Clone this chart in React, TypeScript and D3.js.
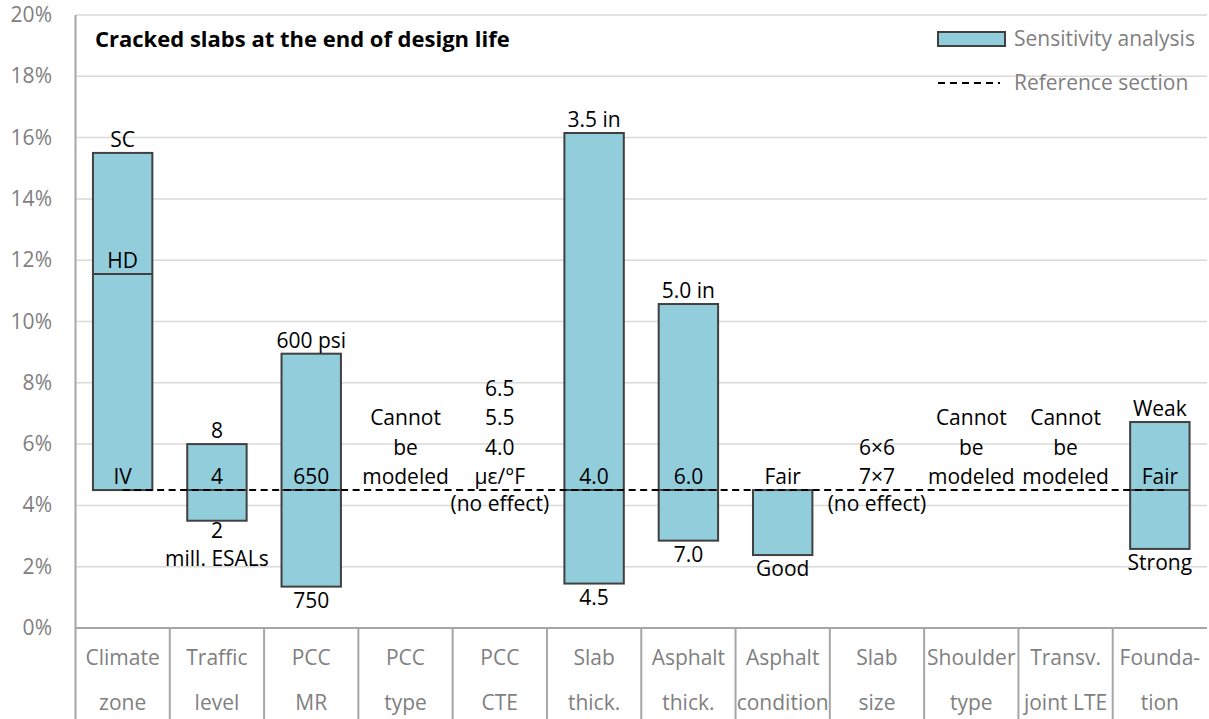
import React from "react";
import * as d3 from "d3";

const categoryLabels: string[][] = [
  ["Climate", "zone"],
  ["Traffic", "level"],
  ["PCC", "MR"],
  ["PCC", "type"],
  ["PCC", "CTE"],
  ["Slab", "thick."],
  ["Asphalt", "thick."],
  ["Asphalt", "condition"],
  ["Slab", "size"],
  ["Shoulder", "type"],
  ["Transv.", "joint LTE"],
  ["Founda-", "tion"],
];

const lowValues: (number | null)[] = [4.5, 3.5, 1.35, null, 4.5, 1.45, 2.85, 2.38, 4.5, null, null, 2.58];
const highValues: (number | null)[] = [15.5, 6.0, 8.95, null, 4.5, 16.15, 10.57, 4.5, 4.5, null, null, 6.72];
const referenceValue = 4.5;

const splitValues: (number | null)[] = [11.55, null, null, null, null, null, null, null, null, null, null, null];
const splitLabels: string[] = ["HD", "", "", "", "", "", "", "", "", "", "", ""];

const topLabels: string[] = ["SC", "8", "600 psi", "", "", "3.5 in", "5.0 in", "", "", "", "", "Weak"];
const referenceLabels: string[] = [
  "IV", "4", "650", "Cannot\nbe\nmodeled", "6.5\n5.5\n4.0\nμε/°F", "4.0", "6.0", "Fair",
  "6×6\n7×7", "Cannot\nbe\nmodeled", "Cannot\nbe\nmodeled", "Fair",
];
const bottomLabels: string[] = ["", "2\nmill. ESALs", "750", "", "(no effect)", "4.5", "7.0", "Good", "(no effect)", "", "", "Strong"];

const yTicks = [0, 2, 4, 6, 8, 10, 12, 14, 16, 18, 20];

const W = 1209;
const H = 719;
const left = 75.5;
const right = 1207;
const top = 15;
const bottom = 628;
const FONT = "'Open Sans', sans-serif";
const FS = 21;

export default function App() {
  const keys = categoryLabels.map((_, i) => String(i));
  const x = d3.scaleBand<string>().domain(keys).range([left, right]).padding(0);
  const y = d3.scaleLinear().domain([0, 20]).range([bottom, top]);
  const bw = x.bandwidth();
  const barW = bw * 0.63;
  const cx = (i: number) => (x(String(i)) as number) + bw / 2;

  const aboveLines = (txt: string, yv: number, i: number, key: string) => {
    if (!txt) return null;
    const lines = txt.split("\n");
    const base = y(yv) - 6;
    return lines.map((l, k) => (
      <text key={key + k} x={cx(i)} y={base - (lines.length - 1 - k) * 29.5} textAnchor="middle" fontSize={FS} fill="#000">
        {l}
      </text>
    ));
  };
  const belowLines = (txt: string, yv: number, i: number, key: string) => {
    if (!txt) return null;
    const lines = txt.split("\n");
    const base = y(yv) + (lines.length > 1 ? 17 : 21);
    return lines.map((l, k) => (
      <text key={key + k} x={cx(i)} y={base + k * 28.5} textAnchor="middle" fontSize={FS} fill="#000">
        {l}
      </text>
    ));
  };

  return (
    <svg width={W} height={H} style={{ position: "absolute", left: 0, top: 0, background: "#fff" }} fontFamily={FONT}>
      {yTicks.map((t) => (
        <line key={"g" + t} x1={left} x2={right} y1={y(t)} y2={y(t)} stroke="#d9d9d9" strokeWidth={1.5} />
      ))}
      {yTicks.map((t) => (
        <text key={"yt" + t} x={52} y={y(t) + 7} textAnchor="end" fontSize={FS} fill="#7f7f7f">
          {t}%
        </text>
      ))}
      <line x1={left} x2={right} y1={bottom} y2={bottom} stroke="#a6a6a6" strokeWidth={2} />
      <line x1={left} x2={left} y1={top} y2={H} stroke="#a6a6a6" strokeWidth={2} />
      {keys.slice(1).map((k) => (
        <line key={"s" + k} x1={x(k) as number} x2={x(k) as number} y1={bottom} y2={H} stroke="#a6a6a6" strokeWidth={2} />
      ))}
      {categoryLabels.map((lab, i) => (
        <g key={"cl" + i}>
          <text x={cx(i)} y={665} textAnchor="middle" fontSize={FS} fill="#7f7f7f">{lab[0]}</text>
          <text x={cx(i)} y={710} textAnchor="middle" fontSize={FS} fill="#7f7f7f">{lab[1]}</text>
        </g>
      ))}
      {lowValues.map((lo, i) => {
        const hi = highValues[i];
        if (lo === null || hi === null) return null;
        return (
          <rect key={"b" + i} x={cx(i) - barW / 2} y={y(hi)} width={barW} height={y(lo) - y(hi)} fill="#92cddc" stroke="#404040" strokeWidth={2} />
        );
      })}
      {splitValues.map((s, i) =>
        s === null ? null : (
          <line key={"sp" + i} x1={cx(i) - barW / 2} x2={cx(i) + barW / 2} y1={y(s)} y2={y(s)} stroke="#404040" strokeWidth={2} />
        )
      )}
      {lowValues.map((lo, i) => {
        const hi = highValues[i];
        if (lo === null || hi === null) return null;
        if (lo < referenceValue && hi > referenceValue)
          return (
            <line key={"rl" + i} x1={cx(i) - barW / 2} x2={cx(i) + barW / 2} y1={y(referenceValue)} y2={y(referenceValue)} stroke="#404040" strokeWidth={2} />
          );
        return null;
      })}
      <line x1={cx(0)} x2={cx(categoryLabels.length - 1) + 4} y1={y(referenceValue)} y2={y(referenceValue)} stroke="#000" strokeWidth={2} strokeDasharray="7,4.5" />
      {topLabels.map((t, i) => aboveLines(t, highValues[i] as number, i, "tl" + i))}
      {splitLabels.map((t, i) => (splitValues[i] === null ? null : aboveLines(t, splitValues[i] as number, i, "sl" + i)))}
      {referenceLabels.map((t, i) => aboveLines(t, referenceValue, i, "rl" + i))}
      {bottomLabels.map((t, i) => belowLines(t, (lowValues[i] ?? referenceValue) as number, i, "bl" + i))}
      <text x={95} y={47} fontSize={22} fontWeight="bold" fill="#000">Cracked slabs at the end of design life</text>
      <rect x={938} y={32} width={67} height={14} fill="#92cddc" stroke="#404040" strokeWidth={2} />
      <text x={1014} y={46} fontSize={FS} fill="#7f7f7f">Sensitivity analysis</text>
      <line x1={938} x2={1000} y1={83} y2={83} stroke="#000" strokeWidth={2} strokeDasharray="7,5" />
      <text x={1014} y={90} fontSize={FS} fill="#7f7f7f">Reference section</text>
    </svg>
  );
}
